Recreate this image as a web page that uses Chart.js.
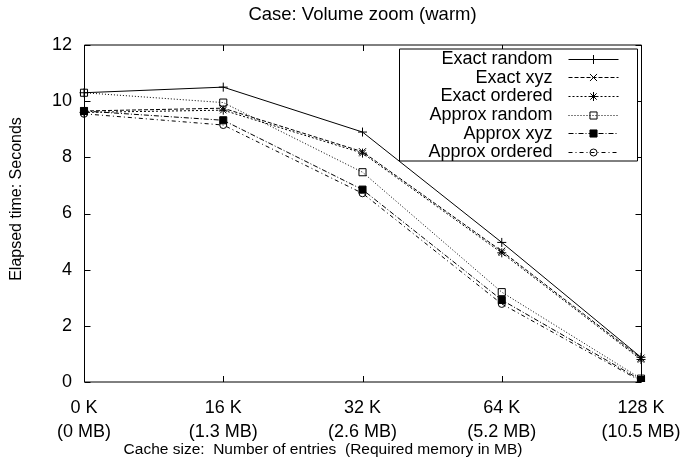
<!DOCTYPE html>
<html><head><meta charset="utf-8">
<script src="https://cdn.jsdelivr.net/npm/chart.js@4.4.0/dist/chart.umd.min.js"></script>
<style>html,body{margin:0;padding:0;background:#fff}#wrap{width:680px;height:458px}</style>
</head><body><div id="wrap"><canvas id="c" width="680" height="458"></canvas></div>
<script>
// ---- data ----
const categories = [["0 K","(0 MB)"],["16 K","(1.3 MB)"],["32 K","(2.6 MB)"],["64 K","(5.2 MB)"],["128 K","(10.5 MB)"]];
const seriesNames = ["Exact random","Exact xyz","Exact ordered","Approx random","Approx xyz","Approx ordered"];
const exactRandom   = [10.3, 10.5, 8.9, 4.97, 0.88];
const exactXyz      = [9.65, 9.75, 8.2, 4.66, 0.85];
const exactOrdered  = [9.6, 9.68, 8.15, 4.6, 0.8];
const approxRandom  = [10.3, 9.95, 7.47, 3.2, 0.12];
const approxXyz     = [9.65, 9.32, 6.85, 2.92, 0.07];
const approxOrdered = [9.55, 9.15, 6.72, 2.78, 0.03];
const yTicks = [0, 2, 4, 6, 8, 10, 12];
const chartTitle = 'Case: Volume zoom (warm)';
const xTitle = 'Cache size:  Number of entries  (Required memory in MB)';
const yTitle = 'Elapsed time: Seconds';

// ---- styles ----
const FONT = "'Liberation Sans', Arial, Helvetica, sans-serif";
const styles = [
  {dash: [], pointStyle: 'cross', radius: 4.5, fill: 'rgba(0,0,0,0)'},
  {dash: [4, 2], pointStyle: 'crossRot', radius: 5, fill: 'rgba(0,0,0,0)'},
  {dash: [2, 2], pointStyle: 'star', radius: 4.5, fill: 'rgba(0,0,0,0)'},
  {dash: [1, 2], pointStyle: 'rect', radius: 5, fill: 'rgba(0,0,0,0)'},
  {dash: [5, 2, 1, 2], pointStyle: 'rect', radius: 5, fill: '#000'},
  {dash: [4, 3, 1, 3], pointStyle: 'circle', radius: 3.5, fill: 'rgba(0,0,0,0)'}
];
const seriesValues = [exactRandom, exactXyz, exactOrdered, approxRandom, approxXyz, approxOrdered];

const datasets = seriesNames.map((name, i) => ({
  label: name,
  data: seriesValues[i],
  borderColor: '#000',
  borderWidth: 1,
  borderDash: styles[i].dash,
  tension: 0,
  fill: false,
  pointStyle: styles[i].pointStyle,
  pointRadius: styles[i].radius,
  pointBorderWidth: 1,
  pointBorderColor: '#000',
  pointBackgroundColor: styles[i].fill
}));

const framePlugin = {
  id: 'frame',
  afterDraw(chart) {
    const {ctx, chartArea: a, scales: {x, y}} = chart;
    ctx.save();
    ctx.strokeStyle = '#000';
    ctx.lineWidth = 1;
    ctx.setLineDash([]);
    const L = Math.round(a.left) + 0.5, R = Math.round(a.right) + 0.5;
    const T = Math.round(a.top), B = Math.round(a.bottom);
    ctx.beginPath();
    ctx.moveTo(L, T); ctx.lineTo(R, T);
    ctx.moveTo(L, B); ctx.lineTo(R, B);
    ctx.moveTo(L, T); ctx.lineTo(L, B);
    ctx.moveTo(R, T); ctx.lineTo(R, B);
    const tl = 6;
    categories.forEach((c, i) => {
      const px = Math.round(x.getPixelForValue(i)) + 0.5;
      ctx.moveTo(px, B); ctx.lineTo(px, B - tl);
      ctx.moveTo(px, T); ctx.lineTo(px, T + tl);
    });
    yTicks.forEach(v => {
      const py = Math.round(y.getPixelForValue(v)) + 0.5;
      ctx.moveTo(L, py); ctx.lineTo(L + tl, py);
      ctx.moveTo(R, py); ctx.lineTo(R - tl, py);
    });
    ctx.stroke();

    // axis titles
    ctx.fillStyle = '#000';
    ctx.textAlign = 'center';
    ctx.textBaseline = 'middle';
    ctx.font = '15.5px ' + FONT;
    ctx.fillText(xTitle, 323, 450);
    ctx.save();
    ctx.translate(17, 199);
    ctx.rotate(-Math.PI / 2);
    ctx.font = '16px ' + FONT;
    ctx.fillText(yTitle, 0, 0);
    ctx.restore();

    // legend (key) box
    const bw = 238, bh = 112;
    const bx = Math.round(a.right) - 4 - bw + 0.5;
    const by = Math.round(a.top) + 4;
    ctx.fillStyle = '#fff';
    ctx.fillRect(bx, by, bw, bh);
    ctx.beginPath();
    ctx.moveTo(bx, by); ctx.lineTo(bx + bw, by);
    ctx.moveTo(bx, by + bh); ctx.lineTo(bx + bw, by + bh);
    ctx.moveTo(bx, by); ctx.lineTo(bx, by + bh);
    ctx.moveTo(bx + bw, by); ctx.lineTo(bx + bw, by + bh);
    ctx.stroke();
    const rowH = 18.7;
    ctx.font = '18px ' + FONT;
    ctx.textAlign = 'right';
    ctx.textBaseline = 'middle';
    seriesNames.forEach((name, i) => {
      const cy = by + 9.5 + i * rowH;
      ctx.fillStyle = '#000';
      ctx.fillText(name, bx + 153, cy + 0.5);
      const s = styles[i];
      ctx.setLineDash(s.dash);
      ctx.beginPath();
      ctx.moveTo(bx + 169, Math.round(cy) + 0.5);
      ctx.lineTo(bx + 219, Math.round(cy) + 0.5);
      ctx.stroke();
      ctx.setLineDash([]);
      ctx.fillStyle = s.fill;
      Chart.helpers.drawPoint(ctx, {pointStyle: s.pointStyle, radius: s.radius, rotation: 0, borderWidth: 1}, bx + 194, Math.round(cy) + 0.5);
    });
    ctx.restore();
  }
};

new Chart(document.getElementById('c'), {
  type: 'line',
  data: {labels: categories, datasets},
  options: {
    responsive: false,
    animation: false,
    devicePixelRatio: 1,
    layout: {padding: {left: 0, right: 39, top: 0, bottom: 0}},
    plugins: {
      legend: {display: false},
      tooltip: {enabled: false},
      title: {
        display: true,
        text: chartTitle,
        color: '#000',
        fullSize: false,
        font: {family: FONT, size: 18.5, weight: 'normal', lineHeight: 1.2},
        padding: {top: 4, bottom: 18.8}
      }
    },
    scales: {
      x: {
        type: 'category',
        offset: false,
        grid: {display: false, drawTicks: false},
        border: {display: false},
        ticks: {color: '#000', font: {family: FONT, size: 18, lineHeight: 1.29}, padding: 14.8, maxRotation: 0, autoSkip: false},
        title: {display: false},
        afterFit(s) { s.height = 76; s.paddingLeft = 0; s.paddingRight = 0; }
      },
      y: {
        min: 0, max: 12,
        grid: {display: false, drawTicks: false},
        border: {display: false},
        afterBuildTicks(s) { s.ticks = yTicks.map(v => ({value: v})); },
        ticks: {color: '#000', font: {family: FONT, size: 18}, padding: 12},
        title: {display: false},
        afterFit(s) { s.width = 84; s.paddingTop = 0; s.paddingBottom = 0; }
      }
    }
  },
  plugins: [framePlugin]
});
</script>
</body></html>
